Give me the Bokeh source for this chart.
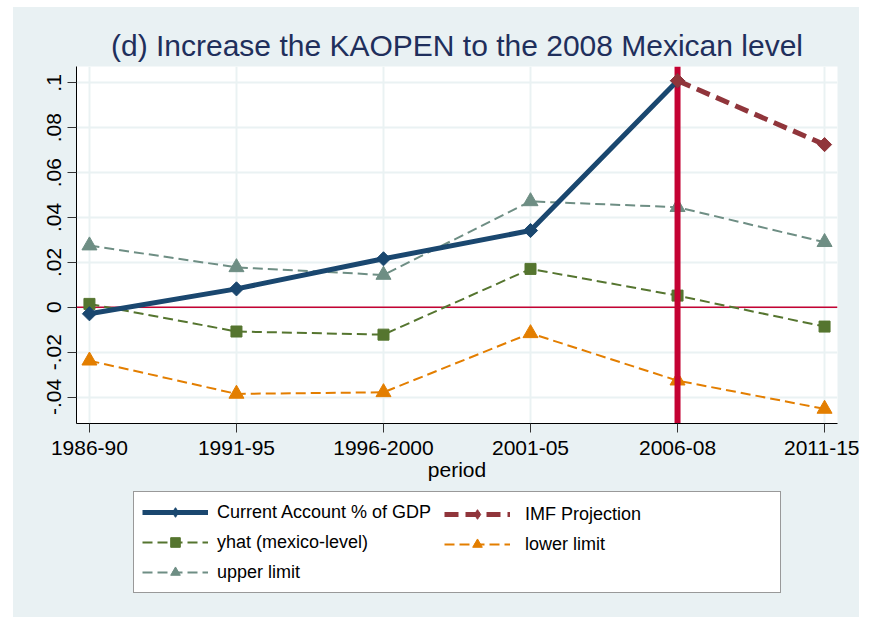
import math
from bokeh.plotting import figure
from bokeh.models import Span, Legend, LegendItem, FixedTicker, Range1d, Spacer
from bokeh.layouts import row, column
from bokeh.embed import file_html
from bokeh.resources import INLINE

# ---- data ----
periods = ["1986-90", "1991-95", "1996-2000", "2001-05", "2006-08", "2011-15"]
ca_periods = ["1986-90", "1991-95", "1996-2000", "2001-05", "2006-08"]
current_account = [-0.0029, 0.0082, 0.0216, 0.0342, 0.1010]
imf_periods = ["2006-08", "2011-15"]
imf_projection = [0.1010, 0.0725]
yhat = [0.0015, -0.0108, -0.0122, 0.0171, 0.0052, -0.0086]
upper_limit = [0.0275, 0.0178, 0.0144, 0.0472, 0.0446, 0.0290]
lower_limit = [-0.0238, -0.0386, -0.0379, -0.0116, -0.0327, -0.0453]
y_ticks = [-0.04, -0.02, 0.0, 0.02, 0.04, 0.06, 0.08, 0.1]
y_tick_labels = ["-.04", "-.02", "0", ".02", ".04", ".06", ".08", ".1"]
title_text = "(d) Increase the KAOPEN to the 2008 Mexican level"
x_title = "period"
reference_period = "2006-08"
labels = ["Current Account % of GDP", "IMF Projection", "yhat (mexico-level)",
          "lower limit", "upper limit"]

# ---- styling ----
FONT = "Liberation Sans"
BG = "#E9F1F3"
GRID = "#EAF2F3"
NAVY = "#1A476F"
MAROON = "#90353B"
GREEN = "#55752F"
ORANGE = "#E37E00"
TEAL = "#6E8E84"
CRIMSON = "#C40233"
DASH = "10 5"
IMF_DASH = "14 7"

pos = {p: i + 1 for i, p in enumerate(periods)}
x_all = [pos[p] for p in periods]
x_ca = [pos[p] for p in ca_periods]
x_imf = [pos[p] for p in imf_periods]

# ================= main plot =================
p = figure(width=846, height=482,
           x_range=Range1d(0.912, 6.088), y_range=Range1d(-0.0518, 0.1073),
           output_backend="svg", toolbar_location=None,
           min_border_left=63, min_border_right=22, min_border_top=59,
           min_border_bottom=66,
           background_fill_color="white", border_fill_color=BG,
           outline_line_color=None)

p.title.text = title_text
p.title.text_font = FONT
p.title.text_font_size = "30px"
p.title.text_font_style = "normal"
p.title.text_color = "#1F2F5C"
p.title.align = "center"
p.title.standoff = 9

p.xaxis.ticker = FixedTicker(ticks=x_all)
p.xaxis.major_label_overrides = {pos[k]: k for k in periods}
p.yaxis.ticker = FixedTicker(ticks=y_ticks)
p.yaxis.major_label_overrides = {t: l for t, l in zip(y_ticks, y_tick_labels)}
p.yaxis.major_label_orientation = "vertical"
for ax in (p.xaxis, p.yaxis):
    ax.axis_line_color = "black"
    ax.axis_line_width = 1
    ax.major_tick_line_color = "#333333"
    ax.major_tick_out = 9
    ax.major_tick_in = 0
    ax.minor_tick_line_color = None
    ax.major_label_text_font = FONT
    ax.major_label_text_font_size = "21px"
    ax.major_label_text_color = "black"
p.xaxis.major_label_standoff = 8
p.yaxis.major_label_standoff = 6
p.xaxis.axis_label = x_title
p.xaxis.axis_label_text_font = FONT
p.xaxis.axis_label_text_font_size = "21px"
p.xaxis.axis_label_text_font_style = "normal"
p.xaxis.axis_label_text_color = "black"
p.xaxis.axis_label_standoff = 0

p.xgrid.grid_line_color = GRID
p.xgrid.grid_line_width = 2
p.ygrid.grid_line_color = GRID
p.ygrid.grid_line_width = 2

zero_line = Span(location=0, dimension="width", line_color=CRIMSON,
                 line_width=1.6, level="glyph")
p.renderers.append(zero_line)


def add_series(fig, xs, ys, color, marker, size, width, dash, angle=0.0):
    ln = fig.line(xs, ys, line_color=color, line_width=width, line_dash=dash)
    mk = fig.scatter(xs, ys, marker=marker, size=size, color=color, angle=angle)
    return ln, mk


r_up = add_series(p, x_all, upper_limit, TEAL, "triangle", 15, 2, DASH)
r_lo = add_series(p, x_all, lower_limit, ORANGE, "triangle", 15, 2, DASH)
r_yh = add_series(p, x_all, yhat, GREEN, "square", 11, 2, DASH)

vline = Span(location=pos[reference_period], dimension="height",
             line_color=CRIMSON, line_width=6, level="glyph")
p.renderers.append(vline)

r_ca = add_series(p, x_ca, current_account, NAVY, "square", 10, 5, "solid",
                  angle=math.pi / 4)
r_imf = add_series(p, x_imf, imf_projection, MAROON, "square", 10, 5, IMF_DASH,
                   angle=math.pi / 4)

# ================= legend panel =================
# same series drawn off-screen so the legend can show their glyphs
q = figure(width=846, height=128, x_range=Range1d(100, 101),
           y_range=Range1d(100, 101), x_axis_type=None, y_axis_type=None,
           output_backend="svg", toolbar_location=None, min_border=0,
           background_fill_color=BG, border_fill_color=BG,
           outline_line_color=None)
q.grid.visible = False

l_ca = add_series(q, x_ca, current_account, NAVY, "diamond", 10, 5, "solid")
l_imf = add_series(q, x_imf, imf_projection, MAROON, "diamond", 10, 5, IMF_DASH)
l_yh = add_series(q, x_all, yhat, GREEN, "square", 11, 2, DASH)
l_lo = add_series(q, x_all, lower_limit, ORANGE, "triangle", 15, 2, DASH)
l_up = add_series(q, x_all, upper_limit, TEAL, "triangle", 15, 2, DASH)

common = dict(glyph_width=66, glyph_height=24, label_height=24, spacing=6,
              padding=8, label_text_font=FONT, label_text_font_size="18px",
              label_text_color="black", margin=0)

leg_a = Legend(items=[LegendItem(label=labels[0], renderers=list(l_ca)),
                      LegendItem(label=labels[2], renderers=list(l_yh)),
                      LegendItem(label=labels[4], renderers=list(l_up))],
               location=(57, 24), label_width=555, label_standoff=9,
               border_line_color="#333333", border_line_width=1,
               background_fill_color="white", background_fill_alpha=1,
               **common)
leg_b = Legend(items=[LegendItem(label=labels[1], renderers=list(l_imf)),
                      LegendItem(label=labels[3], renderers=list(l_lo))],
               location=(368, 61), label_standoff=15,
               border_line_color=None, background_fill_alpha=0,
               **common)
q.add_layout(leg_a)
q.add_layout(leg_b)

inner = column(p, q, styles={"background-color": BG})
layout = column(Spacer(width=10, height=7),
                row(Spacer(width=13, height=10), inner))
open("out.html", "w").write(file_html(layout, INLINE))
